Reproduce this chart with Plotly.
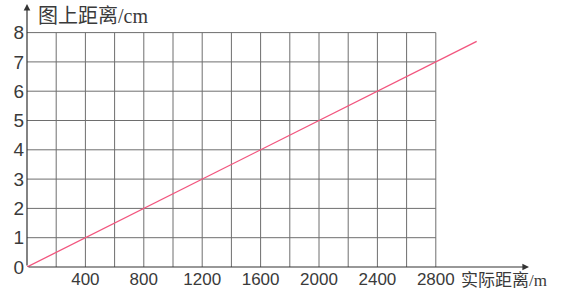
import plotly.graph_objects as go

# Data
real_distance_m = [0, 3080]
map_distance_cm = [0, 7.7]
x_tick_vals = [400, 800, 1200, 1600, 2000, 2400, 2800]
y_tick_vals = [0, 1, 2, 3, 4, 5, 6, 7, 8]
x_grid_vals = list(range(200, 2801, 200))
y_grid_vals = list(range(1, 9))
x_grid_max = 2800
y_grid_max = 8

W, H = 569, 290
ml, mr, mt, mb = 27, 32, 3, 23
pxw = W - ml - mr
pxh = H - mt - mb
x_per_px = 400 / 58.4
y_per_px = 1 / 29.3
x_max = pxw * x_per_px
y_max = pxh * y_per_px

grid_color = "#6e6e6e"
text_color = "#3a3a3a"

fig = go.Figure()
fig.add_trace(go.Scatter(
    x=real_distance_m, y=map_distance_cm, mode="lines",
    line=dict(color="#f2557e", width=1.3), hoverinfo="skip", showlegend=False,
))

shapes = []
for gx in x_grid_vals:
    shapes.append(dict(type="line", xref="x", yref="y", x0=gx, x1=gx, y0=0, y1=y_grid_max,
                       line=dict(color=grid_color, width=1), layer="below"))
for gy in y_grid_vals:
    shapes.append(dict(type="line", xref="x", yref="y", x0=0, x1=x_grid_max, y0=gy, y1=gy,
                       line=dict(color=grid_color, width=1), layer="below"))

annotations = [
    # x axis arrow
    dict(x=x_max - 8 * x_per_px, y=0, ax=0, ay=0, xref="x", yref="y", axref="x", ayref="y",
         text="", showarrow=True, arrowhead=2, arrowsize=1.1, arrowwidth=1.2, arrowcolor="#333"),
    # y axis arrow
    dict(x=0, y=y_max - 1.0 * y_per_px, ax=0, ay=0, xref="x", yref="y", axref="x", ayref="y",
         text="", showarrow=True, arrowhead=2, arrowsize=1.1, arrowwidth=1.2, arrowcolor="#333"),
    dict(x=(36 - ml) / pxw, y=(H - mb - 15) / pxh, xref="paper", yref="paper",
         xanchor="left", yanchor="middle", showarrow=False,
         text="图上距离<span style='font-family:Liberation Serif'>/cm</span>",
         font=dict(family="Noto Sans CJK SC", size=20, color=text_color)),
    dict(x=(459 - ml) / pxw, y=(H - mb - 278) / pxh, xref="paper", yref="paper",
         xanchor="left", yanchor="middle", showarrow=False,
         text="实际距离<span style='font-family:Liberation Serif'>/m</span>",
         font=dict(family="Noto Sans CJK SC", size=17, color=text_color)),
]

fig.update_layout(
    width=W, height=H, margin=dict(l=ml, r=mr, t=mt, b=mb, autoexpand=False),
    paper_bgcolor="white", plot_bgcolor="white",
    shapes=shapes, annotations=annotations,
    xaxis=dict(range=[0, x_max], showgrid=False, zeroline=False, showline=False,
               automargin=False,
               tickmode="array", tickvals=x_tick_vals, ticktext=[str(v) for v in x_tick_vals],
               ticks="", ticklabelstandoff=0,
               tickfont=dict(family="Liberation Sans", size=17, color=text_color), fixedrange=True),
    yaxis=dict(range=[0, y_max], showgrid=False, zeroline=False, showline=False,
               automargin=False,
               tickmode="array", tickvals=y_tick_vals, ticktext=[str(v) for v in y_tick_vals],
               ticks="", ticklabelstandoff=2,
               tickfont=dict(family="Liberation Sans", size=19, color=text_color), fixedrange=True),
)

fig.write_html("out.html")
